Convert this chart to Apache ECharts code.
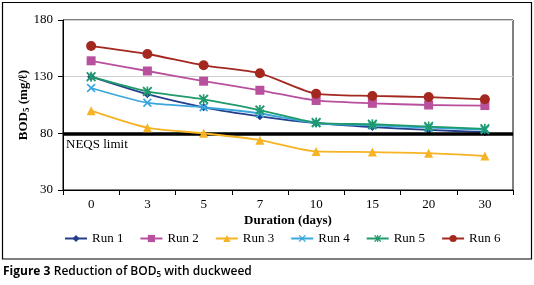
<!DOCTYPE html>
<html><head><meta charset="utf-8">
<script src="https://cdn.jsdelivr.net/npm/echarts@6/dist/echarts.min.js"></script>
<style>html,body{margin:0;padding:0;background:#fff}#c{width:534px;height:285px}</style>
</head><body><div id="c"></div>
<script>
const categories = ['0','3','5','7','10','15','20','30'];
const run1 = [130, 114.5, 103, 95, 89, 85.5, 83, 81];
const run2 = [144, 135, 126, 118, 109, 106.5, 105, 104.5];
const run3 = [100, 85, 80, 74, 64, 63.5, 62.5, 60];
const run4 = [120, 107, 103, 97.5, 89, 87, 85, 83];
const run5 = [130, 117, 110, 100.5, 89.5, 88, 86, 84];
const run6 = [157, 150, 140, 133, 115, 113, 112, 110];
const neqsLimit = 80;
const yTicks = [30, 80, 130, 180];

const serif = '"Liberation Serif", "DejaVu Serif", serif';
const xPath = 'path://M0,1.3L1.3,0L5,3.7L8.7,0L10,1.3L6.3,5L10,8.7L8.7,10L5,6.3L1.3,10L0,8.7L3.7,5Z';
const starPath = 'path://M0,1.3L1.3,0L5,3.7L8.7,0L10,1.3L6.3,5L10,8.7L8.7,10L5,6.3L1.3,10L0,8.7L3.7,5Z M4.2,0L5.8,0L5.8,10L4.2,10Z';

const runs = [
  {name:'Run 1', data:run1, color:'#253f8c', symbol:'diamond', size:8},
  {name:'Run 2', data:run2, color:'#b8509e', symbol:'rect', size:9},
  {name:'Run 3', data:run3, color:'#f6b323', symbol:'triangle', size:9},
  {name:'Run 4', data:run4, color:'#39a7dd', symbol:xPath, size:9},
  {name:'Run 5', data:run5, color:'#1e9a6b', symbol:starPath, size:10},
  {name:'Run 6', data:run6, color:'#a4281f', symbol:'circle', size:10}
];

const series = runs.map((r, i) => ({
  name: r.name, type: 'line', data: r.data, smooth: 0.25,
  symbol: r.symbol, symbolSize: r.size, showSymbol: true,
  lineStyle: {color: r.color, width: 1.8},
  itemStyle: {color: r.color, borderWidth: 0},
  z: 3 + i,
  emphasis: {disabled: true},
  markLine: i === 0 ? {
    silent: true, symbol: 'none', animation: false,
    lineStyle: {color: '#000', width: 3.5, type: 'solid'},
    label: {show: true, position: 'insideStartBottom', formatter: 'NEQS limit',
      fontFamily: serif, fontSize: 13, color: '#000', distance: [3, 5]},
    data: [{yAxis: neqsLimit}]
  } : undefined
}));

const chart = echarts.init(document.getElementById('c'), null, {renderer: 'canvas'});
chart.setOption({
  animation: false,
  grid: {left: 63, top: 20, right: 21, bottom: 95, show: true, borderColor: '#000', borderWidth: 1},
  legend: {
    data: runs.map(r => r.name), top: 227, left: 59, width: 480, itemGap: 16, itemWidth: 22, itemHeight: 9,
    textStyle: {fontFamily: serif, fontSize: 13, color: '#000'}
  },
  xAxis: {
    type: 'category', data: categories, boundaryGap: true,
    name: 'Duration (days)', nameLocation: 'middle', nameGap: 24, nameMoveOverlap: false,
    nameTextStyle: {fontFamily: serif, fontSize: 13, fontWeight: 'bold', color: '#000'},
    axisLine: {lineStyle: {color: '#000', width: 1}},
    axisTick: {show: true, length: 5, lineStyle: {color: '#000'}},
    axisLabel: {fontFamily: serif, fontSize: 13, color: '#000', margin: 8},
    splitLine: {show: false}
  },
  yAxis: {
    type: 'value', min: yTicks[0], max: yTicks[yTicks.length-1], interval: 50,
    name: '{a|BOD}{s|5}{a| (mg/ℓ)}', nameLocation: 'middle', nameGap: 32, nameRotate: 90, nameMoveOverlap: false,
    nameTextStyle: {rich: {
      a: {fontFamily: serif, fontSize: 13, fontWeight: 'bold', color: '#000'},
      s: {fontFamily: serif, fontSize: 9, fontWeight: 'bold', color: '#000', verticalAlign: 'bottom', padding: [6,0,0,0]}
    }},
    axisLine: {show: true, lineStyle: {color: '#000', width: 1}},
    axisTick: {show: true, length: 5, lineStyle: {color: '#000'}},
    axisLabel: {fontFamily: serif, fontSize: 13, color: '#000', margin: 10},
    splitLine: {show: true, lineStyle: {color: '#cfcfcf', width: 1}}
  },
  graphic: [
    {type: 'rect', shape: {x: 2.5, y: 2.5, width: 529, height: 256.5}, style: {fill: 'none', stroke: '#000', lineWidth: 1.2}, silent: true, z: -1},
    {type: 'text', left: 3, top: 266, style: {
      text: '{b|Figure 3} {r|Reduction of BOD}{s|5}{r| with duckweed}',
      rich: {
        b: {fontFamily: '"Open Sans", sans-serif', fontSize: 12, fontWeight: 'bold', fill: '#000'},
        r: {fontFamily: '"Open Sans", sans-serif', fontSize: 12, fontWeight: 600, fill: '#000'},
        s: {fontFamily: '"Open Sans", sans-serif', fontSize: 8, fontWeight: 600, fill: '#000', padding: [6,0,0,0]}
      }
    }}
  ],
  series: series
});
</script></body></html>
